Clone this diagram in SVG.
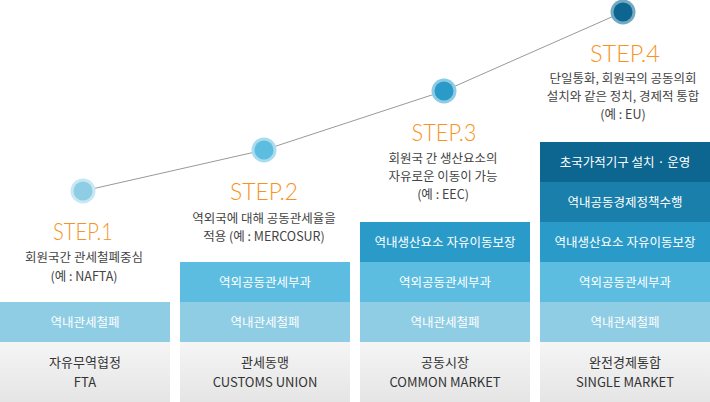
<svg xmlns="http://www.w3.org/2000/svg" width="710" height="402" viewBox="0 0 710 402">
<defs>
<linearGradient id="gray" x1="0" y1="0" x2="0" y2="1">
<stop offset="0" stop-color="#f5f5f5"/>
<stop offset="1" stop-color="#e5e5e5"/>
</linearGradient>
<style>
.step{font-family:Lato,"Liberation Sans",sans-serif;font-weight:300;font-size:24px;fill:#f7931e;text-anchor:middle}
.desc{font-family:"Noto Sans CJK KR","Liberation Sans",sans-serif;font-size:12.5px;fill:#444;text-anchor:middle}
.band{font-family:"Noto Sans CJK KR","Liberation Sans",sans-serif;font-size:12.5px;fill:#fff;text-anchor:middle}
.base{font-family:"Noto Sans CJK KR","Liberation Sans",sans-serif;font-size:13px;fill:#333;text-anchor:middle}
.b1{fill:#8ecde4}.b2{fill:#5cbde0}.b3{fill:#2a9bc9}.b4{fill:#1a7fab}.b5{fill:#0c6690}
.gray{fill:url(#gray)}
</style>
</defs>
<rect width="710" height="402" fill="#fff"/>
<g id="connectors">
<polyline points="83,191 264,150 444,91 623,12" fill="none" stroke="#999" stroke-width="1"/>
</g>
<g id="dot1"><circle cx="83" cy="191" r="12.5" fill="#c6e7f3"/><circle cx="83" cy="191" r="9.5" fill="#8ecde4"/></g>
<g id="dot2"><circle cx="264" cy="150" r="12.5" fill="#a9dcef"/><circle cx="264" cy="150" r="9.5" fill="#5cbde0"/></g>
<g id="dot3"><circle cx="444" cy="91" r="12.5" fill="#8dcbe4"/><circle cx="444" cy="91" r="9.5" fill="#2a9bc9"/></g>
<g id="dot4"><circle cx="623" cy="12" r="12.5" fill="#72a9c3"/><circle cx="623" cy="12" r="9.5" fill="#0c6690"/></g>
<g id="step1">
<text class="step" x="83" y="240" textLength="60" lengthAdjust="spacingAndGlyphs">STEP.1</text>
<text class="desc" x="84" y="262">회원국간 관세철폐중심</text>
<text class="desc" x="84" y="281">(예 : NAFTA)</text>
<rect class="b1" x="0" y="302" width="170" height="40"/>
<text class="band" x="85" y="327">역내관세철폐</text>
<rect class="gray" x="0" y="342" width="170" height="60"/>
<text class="base" x="85" y="367">자유무역협정</text>
<text class="base" x="85" y="387">FTA</text>
</g>
<g id="step2">
<text class="step" x="264" y="200" textLength="68" lengthAdjust="spacingAndGlyphs">STEP.2</text>
<text class="desc" x="264" y="223">역외국에 대해 공동관세율을</text>
<text class="desc" x="264" y="241">적용 (예 : MERCOSUR)</text>
<rect class="b2" x="180" y="262" width="170" height="40"/>
<text class="band" x="265" y="287">역외공동관세부과</text>
<rect class="b1" x="180" y="302" width="170" height="40"/>
<text class="band" x="265" y="327">역내관세철폐</text>
<rect class="gray" x="180" y="342" width="170" height="60"/>
<text class="base" x="265" y="367">관세동맹</text>
<text class="base" x="265" y="387">CUSTOMS UNION</text>
</g>
<g id="step3">
<text class="step" x="444" y="141" textLength="65" lengthAdjust="spacingAndGlyphs">STEP.3</text>
<text class="desc" x="443" y="163">회원국 간 생산요소의</text>
<text class="desc" x="443" y="181">자유로운 이동이 가능</text>
<text class="desc" x="443" y="199">(예 : EEC)</text>
<rect class="b3" x="360" y="222" width="170" height="40"/>
<text class="band" x="445" y="247">역내생산요소 자유이동보장</text>
<rect class="b2" x="360" y="262" width="170" height="40"/>
<text class="band" x="445" y="287">역외공동관세부과</text>
<rect class="b1" x="360" y="302" width="170" height="40"/>
<text class="band" x="445" y="327">역내관세철폐</text>
<rect class="gray" x="360" y="342" width="170" height="60"/>
<text class="base" x="445" y="367">공동시장</text>
<text class="base" x="445" y="387">COMMON MARKET</text>
</g>
<g id="step4">
<text class="step" x="625" y="62" textLength="70" lengthAdjust="spacingAndGlyphs">STEP.4</text>
<text class="desc" x="623" y="83">단일통화, 회원국의 공동의회</text>
<text class="desc" x="623" y="101">설치와 같은 정치, 경제적 통합</text>
<text class="desc" x="623" y="119">(예 : EU)</text>
<rect class="b5" x="540" y="142" width="170" height="40"/>
<text class="band" x="625" y="167">초국가적기구 설치 · 운영</text>
<rect class="b4" x="540" y="182" width="170" height="40"/>
<text class="band" x="625" y="207">역내공동경제정책수행</text>
<rect class="b3" x="540" y="222" width="170" height="40"/>
<text class="band" x="625" y="247">역내생산요소 자유이동보장</text>
<rect class="b2" x="540" y="262" width="170" height="40"/>
<text class="band" x="625" y="287">역외공동관세부과</text>
<rect class="b1" x="540" y="302" width="170" height="40"/>
<text class="band" x="625" y="327">역내관세철폐</text>
<rect class="gray" x="540" y="342" width="170" height="60"/>
<text class="base" x="625" y="367">완전경제통합</text>
<text class="base" x="625" y="387">SINGLE MARKET</text>
</g>
</svg>
